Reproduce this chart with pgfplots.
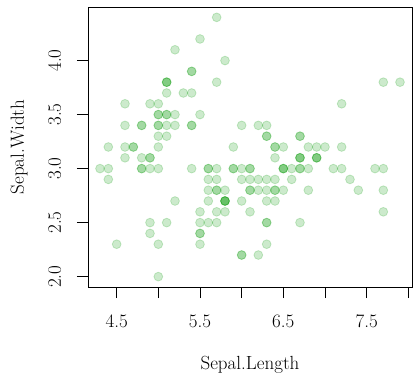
\documentclass[border=0pt]{standalone}
\usepackage{fontspec}
\usepackage{pgfplots}
\pgfplotsset{compat=1.18}
\definecolor{ptg}{RGB}{0,150,0}
\pgfplotstableread{
x y
5.1 3.5
4.9 3.0
4.7 3.2
4.6 3.1
5.0 3.6
5.4 3.9
4.6 3.4
5.0 3.4
4.4 2.9
4.9 3.1
5.4 3.7
4.8 3.4
4.8 3.0
4.3 3.0
5.8 4.0
5.7 4.4
5.4 3.9
5.1 3.5
5.7 3.8
5.1 3.8
5.4 3.4
5.1 3.7
4.6 3.6
5.1 3.3
4.8 3.4
5.0 3.0
5.0 3.4
5.2 3.5
5.2 3.4
4.7 3.2
4.8 3.1
5.4 3.4
5.2 4.1
5.5 4.2
4.9 3.1
5.0 3.2
5.5 3.5
4.9 3.6
4.4 3.0
5.1 3.4
5.0 3.5
4.5 2.3
4.4 3.2
5.0 3.5
5.1 3.8
4.8 3.0
5.1 3.8
4.6 3.2
5.3 3.7
5.0 3.3
7.0 3.2
6.4 3.2
6.9 3.1
5.5 2.3
6.5 2.8
5.7 2.8
6.3 3.3
4.9 2.4
6.6 2.9
5.2 2.7
5.0 2.0
5.9 3.0
6.0 2.2
6.1 2.9
5.6 2.9
6.7 3.1
5.6 3.0
5.8 2.7
6.2 2.2
5.6 2.5
5.9 3.2
6.1 2.8
6.3 2.5
6.1 2.8
6.4 2.9
6.6 3.0
6.8 2.8
6.7 3.0
6.0 2.9
5.7 2.6
5.5 2.4
5.5 2.4
5.8 2.7
6.0 2.7
5.4 3.0
6.0 3.4
6.7 3.1
6.3 2.3
5.6 3.0
5.5 2.5
5.5 2.6
6.1 3.0
5.8 2.6
5.0 2.3
5.6 2.7
5.7 3.0
5.7 2.9
6.2 2.9
5.1 2.5
5.7 2.8
6.3 3.3
5.8 2.7
7.1 3.0
6.3 2.9
6.5 3.0
7.6 3.0
4.9 2.5
7.3 2.9
6.7 2.5
7.2 3.6
6.5 3.2
6.4 2.7
6.8 3.0
5.7 2.5
5.8 2.8
6.4 3.2
6.5 3.0
7.7 3.8
7.7 2.6
6.0 2.2
6.9 3.2
5.6 2.8
7.7 2.8
6.3 2.7
6.7 3.3
7.2 3.2
6.2 2.8
6.1 3.0
6.4 2.8
7.2 3.0
7.4 2.8
7.9 3.8
6.4 2.8
6.3 2.8
6.1 2.6
7.7 3.0
6.3 3.4
6.4 3.1
6.0 3.0
6.9 3.1
6.7 3.1
6.9 3.1
5.8 2.7
6.8 3.2
6.7 3.3
6.7 3.0
6.3 2.5
6.5 3.0
6.2 3.4
5.9 3.0
}\iris
\begin{document}
\begin{tikzpicture}
\begin{axis}[
  scale only axis, width=324pt, height=280pt,
  xmin=4.156, xmax=8.044, ymin=1.904, ymax=4.496,
  axis line style={line width=0.8pt},
  every tick/.style={line width=0.8pt, black},
  tick align=outside, major tick length=11pt,
  xtick pos=bottom, ytick pos=left,
  xtick={4.5,5,5.5,6,6.5,7,7.5,8},
  xticklabels={4.5,,5.5,,6.5,,7.5,},
  ytick={2,2.5,3,3.5,4},
  yticklabels={2.0,2.5,3.0,3.5,4.0},
  /pgf/number format/assume math mode=true,
  tick label style={font=\fontsize{19}{23}\selectfont},
  xticklabel style={anchor=base, yshift=-29pt},
  yticklabel style={rotate=90, anchor=base, yshift=16pt},
  xlabel={Sepal.Length}, ylabel={Sepal.Width},
  label style={font=\fontsize{19}{23}\selectfont},
  xlabel style={at={(axis description cs:0.5,0)}, anchor=base, yshift=-82pt},
  ylabel style={at={(axis description cs:0,0.5)}, anchor=base, yshift=64pt},
]
\addplot[only marks, mark=*, mark size=4.4pt,
  mark options={fill=ptg, draw=ptg, fill opacity=0.2, draw opacity=0.2, line width=0.8pt}]
  table[x=x, y=y] {\iris};
\coordinate (ll) at (rel axis cs:0,0);
\coordinate (ur) at (rel axis cs:1,1);
\end{axis}
\path ([xshift=-88pt,yshift=-90pt]ll) rectangle ([xshift=6pt,yshift=7pt]ur);
\end{tikzpicture}
\end{document}
